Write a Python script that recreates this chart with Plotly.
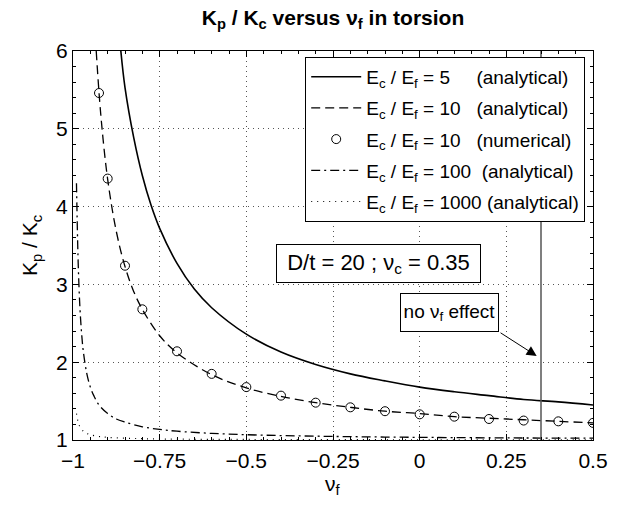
import plotly.graph_objects as go

# ---- data ----
nu_5 = [-0.862, -0.85, -0.825, -0.8, -0.775, -0.75, -0.7, -0.65, -0.6, -0.5, -0.4, -0.3, -0.2, -0.1, 0.0, 0.1, 0.2, 0.3, 0.4, 0.5]
k_5 = [6.0, 5.53, 4.89, 4.40, 4.02, 3.72, 3.27, 2.94, 2.70, 2.36, 2.13, 1.97, 1.85, 1.76, 1.68, 1.62, 1.57, 1.52, 1.49, 1.45]

nu_10 = [-0.933, -0.92, -0.9, -0.875, -0.85, -0.825, -0.8, -0.75, -0.7, -0.6, -0.5, -0.4, -0.3, -0.2, -0.1, 0.0, 0.1, 0.2, 0.3, 0.4, 0.5]
k_10 = [6.0, 5.19, 4.35, 3.68, 3.23, 2.91, 2.68, 2.34, 2.12, 1.84, 1.67, 1.56, 1.48, 1.42, 1.37, 1.34, 1.30, 1.28, 1.26, 1.24, 1.22]

nu_10_num = [-0.925, -0.9, -0.85, -0.8, -0.7, -0.6, -0.5, -0.4, -0.3, -0.2, -0.1, 0.0, 0.1, 0.2, 0.3, 0.4, 0.5]
k_10_num = [5.46, 4.36, 3.24, 2.68, 2.14, 1.85, 1.68, 1.57, 1.48, 1.42, 1.37, 1.33, 1.30, 1.27, 1.25, 1.24, 1.22]

nu_100 = [-0.99, -0.985, -0.98, -0.975, -0.97, -0.96, -0.95, -0.94, -0.925, -0.9, -0.875, -0.85, -0.8, -0.75, -0.7, -0.6, -0.5, -0.4, -0.3, -0.2, -0.1, 0.0, 0.1, 0.2, 0.3, 0.4, 0.5]
k_100 = [4.30, 3.27, 2.70, 2.36, 2.13, 1.85, 1.68, 1.57, 1.45, 1.34, 1.27, 1.23, 1.17, 1.136, 1.113, 1.085, 1.068, 1.057, 1.049, 1.043, 1.038, 1.034, 1.031, 1.028, 1.026, 1.024, 1.023]

nu_1000 = [-0.99, -0.985, -0.98, -0.97, -0.96, -0.95, -0.925, -0.9, -0.8, -0.7, -0.5, 0.0, 0.5]
k_1000 = [1.34, 1.227, 1.17, 1.113, 1.085, 1.068, 1.045, 1.034, 1.017, 1.011, 1.007, 1.003, 1.002]

no_effect_nu = [0.35, 0.35]
no_effect_k = [1, 6]

x_ticks = [-1, -0.75, -0.5, -0.25, 0, 0.25, 0.5]
x_tick_text = ["\u22121", "\u22120.75", "\u22120.5", "\u22120.25", "0", "0.25", "0.5"]
y_ticks = [1, 2, 3, 4, 5, 6]

NB = "\u00a0"
names = [
    "E<sub>c</sub> / E<sub>f</sub> = 5" + NB * 5 + "(analytical)",
    "E<sub>c</sub> / E<sub>f</sub> = 10" + NB * 3 + "(analytical)",
    "E<sub>c</sub> / E<sub>f</sub> = 10" + NB * 3 + "(numerical)",
    "E<sub>c</sub> / E<sub>f</sub> = 100" + NB * 2 + "(analytical)",
    "E<sub>c</sub> / E<sub>f</sub> = 1000 (analytical)",
]

FONT = "Liberation Sans, Arial, Helvetica, sans-serif"

fig = go.Figure()
fig.add_trace(go.Scatter(x=nu_5, y=k_5, mode="lines", name=names[0], legendgroup="a",
                         line=dict(color="black", width=1.6, shape="spline")))
fig.add_trace(go.Scatter(x=nu_10, y=k_10, mode="lines", name=names[1], legendgroup="b",
                         line=dict(color="black", width=1.3, dash="9px,5px", shape="spline")))
fig.add_trace(go.Scatter(x=nu_10_num, y=k_10_num, mode="markers", name=names[2], legendgroup="c",
                         marker=dict(symbol="circle-open", size=9, color="black", line=dict(width=1))))
fig.add_trace(go.Scatter(x=nu_100, y=k_100, mode="lines", name=names[3], legendgroup="d",
                         line=dict(color="black", width=1.3, dash="9px,4px,2px,4px", shape="spline")))
fig.add_trace(go.Scatter(x=nu_1000, y=k_1000, mode="lines", name=names[4], legendgroup="e",
                         line=dict(color="black", width=1.2, dash="1px,5px", shape="spline")))
fig.add_trace(go.Scatter(x=no_effect_nu, y=no_effect_k, mode="lines", showlegend=False,
                         line=dict(color="#555555", width=1.5)))

axis_common = dict(
    showline=True, linecolor="black", linewidth=1, mirror="ticks",
    ticks="inside", ticklen=6, tickcolor="black",
    showgrid=True, gridcolor="#555555", griddash="1px,4px", gridwidth=1,
    zeroline=False,
    tickfont=dict(family=FONT, size=21, color="black"),
    minor=dict(ticks="inside", ticklen=3, tickcolor="black", showgrid=False),
)

fig.update_xaxes(range=[-1, 0.5], tickvals=x_ticks, ticktext=x_tick_text,
                 ticklabelstandoff=2, minor_dtick=0.05, **axis_common)
fig.update_yaxes(range=[1, 6], tickvals=y_ticks,
                 title=dict(text="K<sub>p</sub> / K<sub>c</sub>", font=dict(family=FONT, size=21, color="black"), standoff=12),
                 minor_dtick=0.2, **axis_common)

# x-axis title placed as an annotation for precise vertical position
fig.add_annotation(x=0.5, y=-0.077, xref="paper", yref="paper", xanchor="center", yanchor="top",
                   text="\u03bd<sub>f</sub>", showarrow=False,
                   font=dict(family=FONT, size=21, color="black"))

fig.add_annotation(x=-0.12, y=3.27, xref="x", yref="y",
                   text="D/t = 20 ; \u03bd<sub>c</sub> = 0.35", showarrow=False,
                   font=dict(family=FONT, size=22, color="black"),
                   width=197, height=31, align="center", valign="middle",
                   bgcolor="white", bordercolor="black", borderwidth=1, borderpad=3)
fig.add_annotation(x=0.085, y=2.64, xref="x", yref="y",
                   text="no \u03bd<sub>f</sub> effect", showarrow=False,
                   font=dict(family=FONT, size=19, color="black"),
                   width=91, height=31, align="center", valign="middle",
                   bgcolor="white", bordercolor="black", borderwidth=1, borderpad=3)
fig.add_annotation(x=0.3375, y=2.08, xref="x", yref="y",
                   ax=0.229, ay=2.39, axref="x", ayref="y",
                   text="", showarrow=True, arrowhead=2, arrowsize=2, arrowwidth=1, arrowcolor="black")

fig.update_layout(
    width=629, height=505,
    margin=dict(l=73, r=36, t=51, b=65),
    paper_bgcolor="white", plot_bgcolor="white",
    font=dict(family=FONT, color="black"),
    title=dict(text="<b>K<sub>p</sub> / K<sub>c</sub> versus \u03bd<sub>f</sub> in torsion</b>",
               x=0.5, xref="paper", xanchor="center", y=0.965, yref="container", yanchor="middle",
               font=dict(family=FONT, size=21, color="black")),
    legend=dict(x=0.985, y=0.985, xanchor="right", yanchor="top",
                bgcolor="white", bordercolor="black", borderwidth=1,
                font=dict(family=FONT, size=19, color="black"),
                itemwidth=50, tracegroupgap=3.5, traceorder="grouped"),
    showlegend=True,
)

fig.write_html("out.html")
